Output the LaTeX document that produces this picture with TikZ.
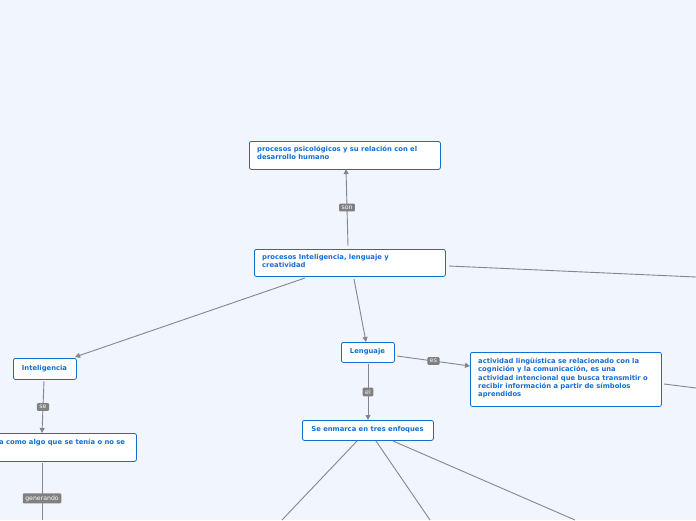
\documentclass[tikz,border=0pt]{standalone}
\usepackage{fontspec}
\setmainfont{DejaVu Sans}
\usetikzlibrary{arrows.meta}
\definecolor{bg}{RGB}{241,245,254}
\definecolor{tb}{RGB}{20,110,210}
\definecolor{ln}{RGB}{130,134,145}
\definecolor{lb}{RGB}{128,128,128}
\tikzset{
 box/.style={draw=tb,fill=white,rounded corners=2pt,line width=0.8pt,anchor=north west,inner sep=0pt},
 txt/.style={text=tb,font=\fontsize{6.8}{8.3}\selectfont\bfseries,align=left,inner sep=0pt},
 conn/.style={draw=ln,line width=0.9pt},
 arr/.style={conn,-{Triangle[length=5pt,width=5pt]}},
 lab/.style={fill=lb,text=white,font=\fontsize{6.2}{7}\selectfont,rounded corners=1pt,inner xsep=2.5pt,inner ysep=2pt}
}
\begin{document}
\begin{tikzpicture}[x=1pt,y=-1pt]
\fill[bg] (0,0) rectangle (696,520);
\clip (0,0) rectangle (696,520);
\useasboundingbox (0,0) rectangle (696,520);
\node[box,minimum width=191pt,minimum height=28pt] (p1) at (249,141) {};
\node[txt,anchor=north west] (p1t) at (257,146) {procesos psicológicos y su relación con el\\desarrollo humano};
\node[box,minimum width=191pt,minimum height=27pt] (p2) at (254,249) {};
\node[txt,anchor=north west] (p2t) at (262,254) {procesos Inteligencia, lenguaje y\\creatividad};
\node[box,minimum width=63pt,minimum height=21pt] (in) at (13,358) {};
\node[txt] (int) at (44.5,368.5) {Inteligencia};
\node[box,minimum width=53pt,minimum height=20pt] (le) at (341,342) {};
\node[txt] (let) at (367.5,352) {Lenguaje};
\node[box,minimum width=191pt,minimum height=54pt] (ac) at (470,352) {};
\node[txt,anchor=north west] (act) at (478,358) {actividad lingüística se relacionado con la\\cognición y la comunicación, es una\\actividad intencional que busca transmitir o\\recibir información a partir de símbolos\\aprendidos};
\node[box,minimum width=131pt,minimum height=20pt] (en) at (302,420) {};
\node[txt] (ent) at (367.5,430) {Se enmarca en tres enfoques};
\node[box,minimum width=196pt,minimum height=28pt] (lf) at (-60,433) {};
\node[txt,anchor=west] (lft) at (-1,443) {a como algo que se tenía o no se};
\coordinate (r1) at (696,277);
\coordinate (r2) at (696,388);
\coordinate (b1) at (42,520);
\coordinate (b2) at (282,520);
\coordinate (b3) at (430,520);
\coordinate (b4) at (575,520);
\draw[arr] (348,246) -- node[lab]{son} (346,169);
\draw[conn] (449,266) -- (r1);
\draw[arr] (305,278) -- (75,357);
\draw[arr] (354,279) -- (366,342);
\draw[arr] (397,356) -- node[lab]{es} (470,366);
\draw[arr] (368,364) -- node[lab]{el} (368,420);
\draw[conn] (664,384) -- (r2);
\draw[arr] (44,381) -- node[lab]{se} (42,433);
\draw[conn] (42,463) -- node[lab,pos=0.62]{generando} (b1);
\draw[conn] (357,441) -- (b2);
\draw[conn] (376,441) -- (b3);
\draw[conn] (393,441) -- (b4);
\end{tikzpicture}
\end{document}
